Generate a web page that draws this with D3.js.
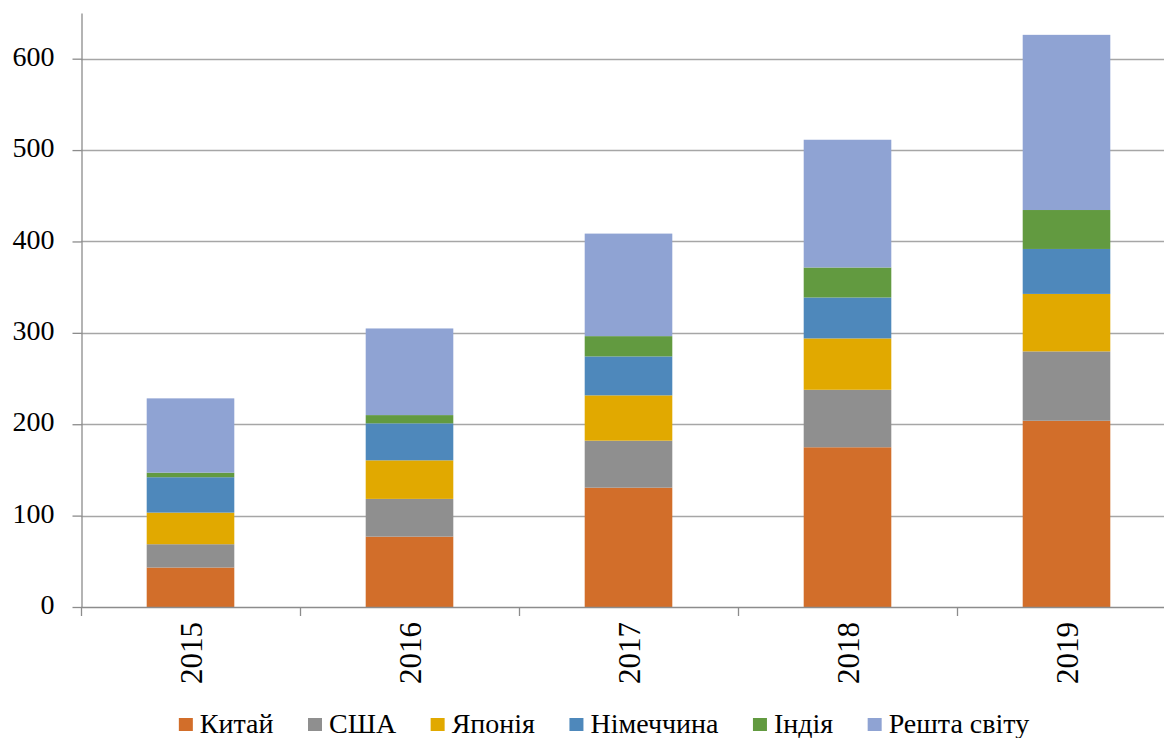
<!DOCTYPE html>
<html>
<head>
<meta charset="utf-8">
<script src="https://cdn.jsdelivr.net/npm/d3@7"></script>
<style>
  html, body { margin: 0; padding: 0; background: #fff; }
  svg { display: block; }
</style>
</head>
<body>
<svg id="chart" width="1164" height="738"></svg>
<script>
// Years on the category axis
const years = ["2015", "2016", "2017", "2018", "2019"];

// Series names (legend order, bottom to top in each stack)
const seriesNames = ["Китай", "США", "Японія", "Німеччина", "Індія", "Решта світу"];
const seriesColors = ["#D26E2A", "#8F8F8F", "#E1A900", "#4E88BB", "#629A40", "#8FA3D3"];

// Values per series, one per year
const china    = [43.2, 77.0, 130.6, 174.8, 203.8];
const usa      = [25.5, 41.3, 51.4, 62.9, 75.9];
const japan    = [34.6, 42.2, 49.6, 56.2, 62.9];
const germany  = [38.7, 40.5, 42.6, 44.8, 49.2];
const india    = [5.0, 9.0, 22.2, 32.8, 42.6];
const restWorld = [81.3, 94.8, 112.2, 139.8, 191.7];

// Y axis ticks
const yTicks = [0, 100, 200, 300, 400, 500, 600];

const serifFont = '"Liberation Serif"';

// Make sure the serif face is resolved before any text is laid out
const warm = document.createElement("canvas").getContext("2d");
[28, 31].forEach(sz => {
  warm.font = `${sz}px ${serifFont}`;
  warm.measureText(seriesNames.join(" ") + " " + years.join(" ") + " 0123456789");
});

const seriesValues = [china, usa, japan, germany, india, restWorld];
const rows = years.map((yr, i) => {
  const r = { year: yr };
  seriesNames.forEach((s, k) => { r[s] = seriesValues[k][i]; });
  return r;
});

const svg = d3.select("#chart").style("font-family", serifFont);
const plotLeft = 81, plotRight = 1176, plotTop = 13, plotBottom = 607;

const x = d3.scaleBand().domain(years).range([plotLeft, plotRight]).paddingInner(0.6).paddingOuter(0.3);
const xEdges = d3.scaleBand().domain(years).range([plotLeft, plotRight]);
const y = d3.scaleLinear().domain([0, 650]).range([plotBottom, plotTop]);

// Horizontal gridlines
svg.append("g")
  .selectAll("line")
  .data(yTicks.filter(t => t > 0))
  .join("line")
  .attr("x1", plotLeft).attr("x2", plotRight)
  .attr("y1", d => Math.round(y(d)) + 0.5).attr("y2", d => Math.round(y(d)) + 0.5)
  .attr("stroke", "#A6A6A6").attr("stroke-width", 1.3);

// Stacked bars
const stack = d3.stack().keys(seriesNames);
const layers = stack(rows);
svg.append("g")
  .selectAll("g")
  .data(layers)
  .join("g")
  .attr("fill", (d, i) => seriesColors[i])
  .selectAll("rect")
  .data(d => d)
  .join("rect")
  .attr("x", d => x(d.data.year))
  .attr("width", x.bandwidth())
  .attr("y", d => y(d[1]))
  .attr("height", d => y(d[0]) - y(d[1]));

// Y axis
const yAxis = d3.axisLeft(y).tickValues(yTicks).tickSize(9).tickPadding(18).tickSizeOuter(0);
const gy = svg.append("g").attr("transform", `translate(${plotLeft + 0.5},0)`).call(yAxis);
gy.attr("font-family", null).attr("font-size", null);
gy.select(".domain").attr("stroke", "#8C8C8C").attr("stroke-width", 1.3);
gy.selectAll(".tick line").attr("stroke", "#8C8C8C").attr("stroke-width", 1.3);
gy.selectAll(".tick text")
  .style("font-family", serifFont)
  .style("font-size", "28px")
  .attr("dy", "0.24em")
  .attr("fill", "#000");

// X axis line and tick marks at band edges
svg.append("line")
  .attr("x1", plotLeft).attr("x2", plotRight)
  .attr("y1", plotBottom + 0.5).attr("y2", plotBottom + 0.5)
  .attr("stroke", "#8C8C8C").attr("stroke-width", 1.3);
svg.append("g")
  .selectAll("line")
  .data(years)
  .join("line")
  .attr("x1", d => xEdges(d) + 0.5).attr("x2", d => xEdges(d) + 0.5)
  .attr("y1", plotBottom).attr("y2", plotBottom + 9)
  .attr("stroke", "#8C8C8C").attr("stroke-width", 1.3);

// Year labels, rotated
svg.append("g")
  .selectAll("text")
  .data(years)
  .join("text")
  .attr("transform", d => `translate(${x(d) + x.bandwidth() / 2 + 11},${plotBottom + 15}) rotate(-90)`)
  .attr("text-anchor", "end")
  .style("font-family", serifFont)
  .style("font-size", "31px")
  .attr("fill", "#000")
  .text(d => d);

// Legend
const legend = svg.append("g");
const items = legend.selectAll("g").data(seriesNames).join("g");
items.append("rect").attr("width", 14).attr("height", 13).attr("y", -15)
  .attr("fill", (d, i) => seriesColors[i]);
items.append("text").attr("x", 21).attr("y", 0)
  .style("font-family", serifFont)
  .style("font-size", "28px")
  .attr("fill", "#000")
  .text(d => d);

// Lay legend entries out from canvas-measured label widths
const itemGap = 34.5;
warm.font = `28px ${serifFont}`;
let cx = 0;
const offsets = [];
seriesNames.forEach(name => {
  offsets.push(cx);
  cx += 21 + warm.measureText(name).width + itemGap;
});
const totalW = cx - itemGap;
const startX = 604 - totalW / 2;
items.attr("transform", (d, i) => `translate(${startX + offsets[i]},733)`);
</script>
</body>
</html>
